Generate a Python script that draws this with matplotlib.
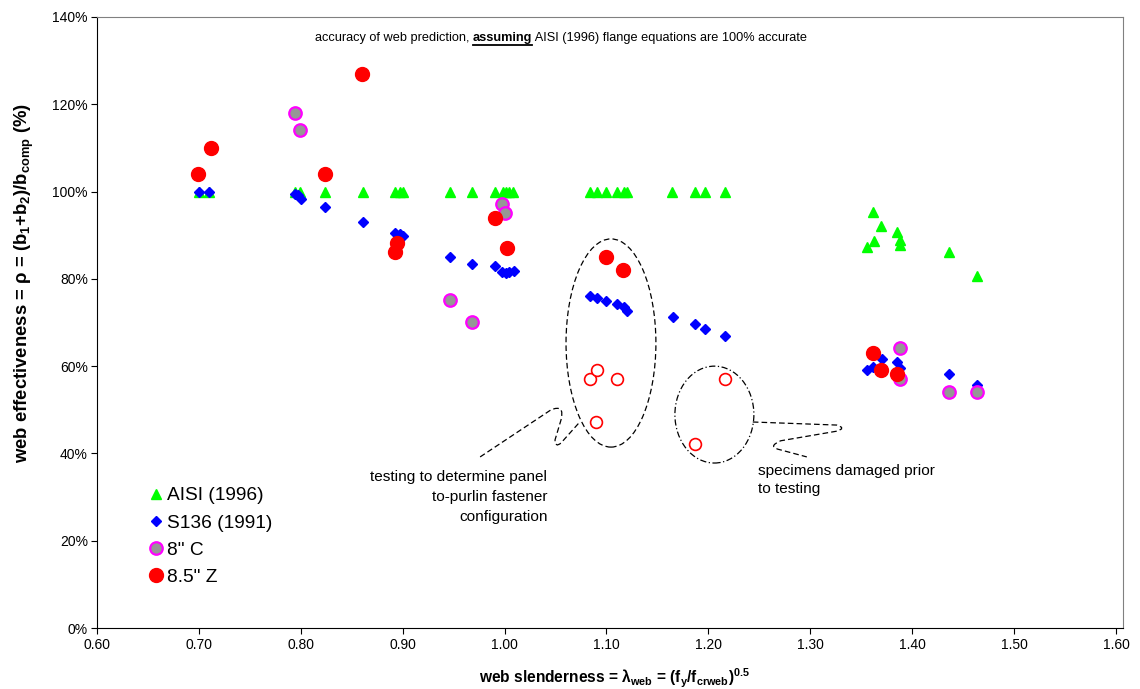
import numpy as np
import matplotlib
matplotlib.use('Agg')
import matplotlib.pyplot as plt
from matplotlib.patches import Ellipse, PathPatch
from matplotlib.path import Path
from matplotlib.lines import Line2D

plt.rcParams['font.family'] = ['Liberation Sans', 'DejaVu Sans']
plt.rcParams['mathtext.fontset'] = 'custom'
plt.rcParams['mathtext.rm'] = 'Liberation Sans:bold'
plt.rcParams['mathtext.default'] = 'rm'

# AISI (1996) predictions
aisi_x = [0.70, 0.71, 0.794, 0.799, 0.824, 0.861, 0.892, 0.897, 0.90, 0.946, 0.968,
          0.991, 0.998, 1.001, 1.004, 1.008, 1.084, 1.091, 1.10, 1.11, 1.117, 1.12,
          1.164, 1.187, 1.197, 1.216,
          1.362, 1.369, 1.385, 1.363, 1.356, 1.388, 1.388, 1.436, 1.464]
aisi_y = [100] * 26 + [95.3, 92.1, 90.7, 88.7, 87.3, 88.9, 87.8, 86.2, 80.7]

# S136 (1991) predictions
s136_x = [0.70, 0.71, 0.794, 0.797, 0.80, 0.824, 0.861, 0.892, 0.897, 0.90, 0.946,
          0.968, 0.991, 0.997, 1.001, 1.004, 1.009, 1.084, 1.091, 1.10, 1.11, 1.117,
          1.12, 1.165, 1.187, 1.197, 1.216, 1.356, 1.362, 1.370, 1.385, 1.388, 1.436,
          1.464]
s136_y = [100, 100, 99.4, 99.2, 98.3, 96.5, 93.0, 90.5, 90.3, 89.8, 85.0, 83.4, 83.0,
          81.6, 81.3, 81.6, 81.8, 76.1, 75.6, 74.9, 74.3, 73.6, 72.6, 71.3, 69.7, 68.5,
          66.9, 59.1, 59.8, 61.6, 61.0, 59.6, 58.2, 55.7]

# 8" C tests
c8_x = [0.794, 0.799, 0.997, 1.0, 0.946, 0.968, 1.388, 1.388, 1.436, 1.464]
c8_y = [118, 114.1, 97.2, 95.1, 75.2, 70.1, 64.2, 57.1, 54.1, 54.1]

# 8.5" Z tests
z85_x = [0.699, 0.712, 0.860, 0.824, 0.894, 0.892, 0.991, 1.002, 1.10, 1.116,
         1.362, 1.369, 1.385]
z85_y = [104, 110, 127, 104, 88.2, 86.2, 94, 87.1, 85, 82, 63, 59.1, 58.2]

# 8.5" Z tests left out (fastener trials / damaged specimens)
z85_open_x = [1.084, 1.091, 1.11, 1.09, 1.187, 1.216]
z85_open_y = [57, 59.1, 57, 47.2, 42.2, 57]

fig = plt.figure(figsize=(11.4, 6.89), dpi=100)
ax = fig.add_axes([97 / 1140, 61 / 689, 1026 / 1140, 611 / 689])

ax.plot(aisi_x, aisi_y, ls='none', marker='^', ms=7, color='#00ff00', mec='#00ff00',
        label='AISI (1996)')
ax.plot(s136_x, s136_y, ls='none', marker='D', ms=4.6, color='#0000ff', mec='#0000ff',
        label='S136 (1991)')
ax.plot(c8_x, c8_y, ls='none', marker='o', ms=9, color='#969696', mec='#ff00ff',
        mew=1.6, label='8" C')
ax.plot(z85_x, z85_y, ls='none', marker='o', ms=10, color='#ff0000', mec='#ff0000',
        label='8.5" Z')
ax.plot(z85_open_x, z85_open_y, ls='none', marker='o', ms=8.5, mfc='white',
        mec='#ff0000', mew=1.2)

ax.set_xlim(0.6, 1.6069)
ax.set_ylim(0, 140)
ax.set_xticks(np.arange(0.6, 1.601, 0.1))
ax.set_xticklabels(['%.2f' % v for v in np.arange(0.6, 1.601, 0.1)])
ax.set_yticks(np.arange(0, 141, 20))
ax.set_yticklabels(['%d%%' % v for v in range(0, 141, 20)])
ax.tick_params(labelsize=10, length=4, width=0.8, direction='out')
ax.tick_params(axis='y', pad=2.5)
for s in ['top', 'right']:
    ax.spines[s].set_color('#808080')
for s in ['left', 'bottom']:
    ax.spines[s].set_color('black')

ax.set_xlabel('web slenderness = λ$_{web}$ = (f$_{y}$/f$_{crweb}$)$^{0.5}$',
              fontsize=11.2, fontweight='bold')
ax.xaxis.set_label_coords(0.504, -0.063)
ax.xaxis.label.set_va('top')
ax.set_ylabel('web effectiveness = ρ = (b$_{1}$+b$_{2}$)/b$_{comp}$ (%)',
              fontsize=13.3, fontweight='bold')
ax.yaxis.set_label_coords(-0.0594, 0.565)

leg = ax.legend(loc='upper left', bbox_to_anchor=(0.0375, 0.2529), frameon=False,
                fontsize=13.75, handlelength=0.7, handletextpad=0.25, labelspacing=0.52,
                borderpad=0.2)

# title made of three pieces, the middle one bold and underlined
t1 = ax.text(0.8137, 134.5, 'accuracy of web prediction, ', fontsize=9.15, va='baseline')
t2 = ax.annotate('assuming', xy=(1, 0), xycoords=t1, fontsize=9.15, fontweight='bold',
                 va='bottom')
t3 = ax.annotate(' AISI (1996) flange equations are 100% accurate', xy=(1, 0),
                 xycoords=t2, fontsize=9.15, va='bottom')

# callouts
ax.add_patch(Ellipse((1.1044, 65.3), 0.0882, 47.7, fill=False, ls=(0, (4.5, 2.5)),
                     lw=0.9, ec='black'))
ax.add_patch(Ellipse((1.2059, 48.9), 0.0775, 22.2, fill=False, ls=(0, (5, 2, 1, 2)),
                     lw=0.9, ec='black'))
tail1 = Path([(0.976, 39.2), (1.0456, 50.0), (1.0593, 51.3), (1.0554, 47.7),
              (1.0495, 43.1), (1.0495, 41.2), (1.0554, 42.4), (1.073, 47.0)],
             [Path.MOVETO, Path.LINETO, Path.CURVE3, Path.CURVE3, Path.LINETO,
              Path.CURVE3, Path.CURVE3, Path.LINETO])
tail2 = Path([(1.2436, 47.2), (1.326, 46.5), (1.336, 45.8), (1.326, 45.1),
              (1.271, 42.9), (1.257, 41.5), (1.271, 40.8), (1.2966, 39.2)],
             [Path.MOVETO, Path.LINETO, Path.CURVE3, Path.CURVE3, Path.LINETO,
              Path.CURVE3, Path.CURVE3, Path.LINETO])
ax.add_patch(PathPatch(tail1, fill=False, ls=(0, (4.5, 2.5)), lw=0.9, ec='black'))
ax.add_patch(PathPatch(tail2, fill=False, ls=(0, (4.5, 2.5)), lw=0.9, ec='black'))

ax.text(1.042, 36.3, 'testing to determine panel\nto-purlin fastener\nconfiguration',
        fontsize=11.1, ha='right', va='top', multialignment='right', linespacing=1.55)
ax.text(1.2485, 37.5, 'specimens damaged prior\nto testing', fontsize=11.1, ha='left',
        va='top', linespacing=1.35)

fig.canvas.draw()
bb = t2.get_window_extent()
fig.add_artist(Line2D([bb.x0, bb.x1], [bb.y0 - 0.5, bb.y0 - 0.5], lw=1.3, color='black',
                      transform=None))

fig.savefig('out.png', dpi=100)
